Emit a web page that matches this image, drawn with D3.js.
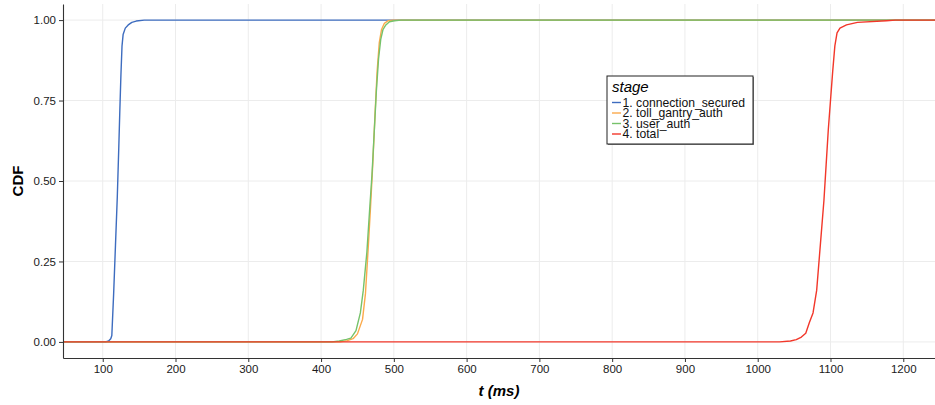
<!DOCTYPE html>
<html>
<head>
<meta charset="utf-8">
<script src="https://cdn.jsdelivr.net/npm/d3@7"></script>
<style>
  body { margin: 0; background: #fff; }
  svg { display: block; font-family: "Liberation Sans", Arial, sans-serif; }
</style>
</head>
<body>
<svg id="chart"></svg>
<script>
const stages = ["1. connection_secured", "2. toll_gantry_auth", "3. user_auth", "4. total"];
const stageColors = ["#3d6cbf", "#fbaa4b", "#76c26a", "#f2372a"];

const xTicks = [100, 200, 300, 400, 500, 600, 700, 800, 900, 1000, 1100, 1200];
const yTicks = [0, 0.25, 0.5, 0.75, 1];

// ecdf points (t in ms, cumulative share)
const connT = [104, 108, 111, 112.5, 115, 117.5, 120, 122, 123.5, 125, 126.5, 128, 131, 135, 140, 146, 157];
const connP = [0, 0.003, 0.01, 0.02, 0.15, 0.3, 0.45, 0.6, 0.72, 0.83, 0.92, 0.955, 0.975, 0.985, 0.993, 0.997, 1];

const tollT = [426, 436, 444, 450, 457, 461, 465, 468, 471, 474, 477, 480, 483, 487, 492, 498];
const tollP = [0, 0.004, 0.01, 0.025, 0.07, 0.15, 0.3, 0.42, 0.55, 0.7, 0.84, 0.93, 0.97, 0.99, 0.998, 1];

const userT = [415, 425, 435, 441, 448, 454, 458, 463, 467, 470, 473, 476, 479, 482, 485, 489, 494, 501, 510];
const userP = [0, 0.003, 0.008, 0.012, 0.035, 0.09, 0.16, 0.28, 0.42, 0.52, 0.65, 0.78, 0.88, 0.94, 0.97, 0.985, 0.995, 0.998, 1];

const totalT = [1030, 1045, 1053, 1060, 1066, 1071, 1076, 1081, 1086, 1091, 1094, 1097, 1100, 1103, 1106, 1109, 1113, 1122, 1137, 1177, 1189];
const totalP = [0, 0.003, 0.007, 0.015, 0.027, 0.06, 0.09, 0.16, 0.3, 0.44, 0.55, 0.66, 0.75, 0.84, 0.92, 0.96, 0.975, 0.985, 0.993, 0.998, 1];

const seriesT = [connT, tollT, userT, totalT];
const seriesP = [connP, tollP, userP, totalP];

const width = 935;
const height = 405;
const margin = { top: 4, right: 0, bottom: 47, left: 63 };

const svg = d3.select("#chart").attr("width", width).attr("height", height);

// scales (ggplot style 5% expansion)
const x = d3.scaleLinear().domain([45.4, 1243.6]).range([margin.left, width - margin.right]);
const y = d3.scaleLinear().domain([-0.05, 1.05]).range([height - margin.bottom, margin.top]);

// grid
svg.append("g")
  .selectAll("line")
  .data(xTicks)
  .join("line")
  .attr("x1", (d) => x(d)).attr("x2", (d) => x(d))
  .attr("y1", y.range()[1]).attr("y2", y.range()[0])
  .attr("stroke", "#ececec").attr("stroke-width", 1);

svg.append("g")
  .selectAll("line")
  .data(yTicks)
  .join("line")
  .attr("x1", x.range()[0]).attr("x2", x.range()[1])
  .attr("y1", (d) => y(d)).attr("y2", (d) => y(d))
  .attr("stroke", "#ececec").attr("stroke-width", 1);

// curves, padded to the panel edges like stat_ecdf
const line = d3.line().x((d) => x(d[0])).y((d) => y(d[1]));
const xDom = x.domain();

stages.forEach((s, i) => {
  const pts = seriesT[i].map((t, j) => [t, seriesP[i][j]]);
  pts.unshift([xDom[0], 0]);
  pts.push([xDom[1], 1]);
  svg.append("path")
    .datum(pts)
    .attr("fill", "none")
    .attr("stroke", stageColors[i])
    .attr("stroke-width", 1.4)
    .attr("stroke-linejoin", "round")
    .attr("d", line);
});

// axes
const xAxis = svg.append("g")
  .attr("transform", `translate(0, ${height - margin.bottom})`)
  .call(d3.axisBottom(x).tickValues(xTicks).tickFormat(d3.format("d")).tickSize(4).tickPadding(3).tickSizeOuter(0));
const yAxis = svg.append("g")
  .attr("transform", `translate(${margin.left}, 0)`)
  .call(d3.axisLeft(y).tickValues(yTicks).tickFormat(d3.format(".2f")).tickSize(4).tickPadding(3).tickSizeOuter(0));

[xAxis, yAxis].forEach((a) => {
  a.select(".domain").attr("stroke", "#333").attr("stroke-width", 1.1);
  a.selectAll(".tick line").attr("stroke", "#333");
  a.selectAll("text")
    .style("font-size", "11.5px")
    .style("font-family", "Liberation Sans, Arial, sans-serif")
    .attr("fill", "#1a1a1a");
});

// axis titles
svg.append("text")
  .attr("x", (margin.left + width - margin.right) / 2)
  .attr("y", 396)
  .attr("text-anchor", "middle")
  .style("font-size", "15px")
  .style("font-weight", "bold")
  .style("font-style", "italic")
  .text("t (ms)");

svg.append("text")
  .attr("transform", `translate(23, ${(y.range()[0] + y.range()[1]) / 2}) rotate(-90)`)
  .attr("text-anchor", "middle")
  .style("font-size", "15px")
  .style("font-weight", "bold")
  .text("CDF");

// legend
const legend = svg.append("g").attr("transform", "translate(607, 76)");

legend.append("rect")
  .attr("x", 1).attr("y", 1)
  .attr("width", 146).attr("height", 68)
  .attr("fill", "#888");
legend.append("rect")
  .attr("width", 146).attr("height", 68)
  .attr("fill", "#fff")
  .attr("stroke", "#222").attr("stroke-width", 1);

legend.append("text")
  .attr("x", 5).attr("y", 16)
  .style("font-size", "15px")
  .style("font-style", "italic")
  .text("stage");

const items = legend.selectAll(".item")
  .data(stages)
  .join("g")
  .attr("class", "item")
  .attr("transform", (d, i) => `translate(0, ${26.5 + i * 10.5})`);

items.append("line")
  .attr("x1", 5).attr("x2", 14)
  .attr("stroke", (d, i) => stageColors[i])
  .attr("stroke-width", 1.4);

items.append("text")
  .attr("x", 15.5).attr("y", 4.3)
  .style("font-size", "12.2px")
  .attr("fill", "#111")
  .text((d) => d);
</script>
</body>
</html>
